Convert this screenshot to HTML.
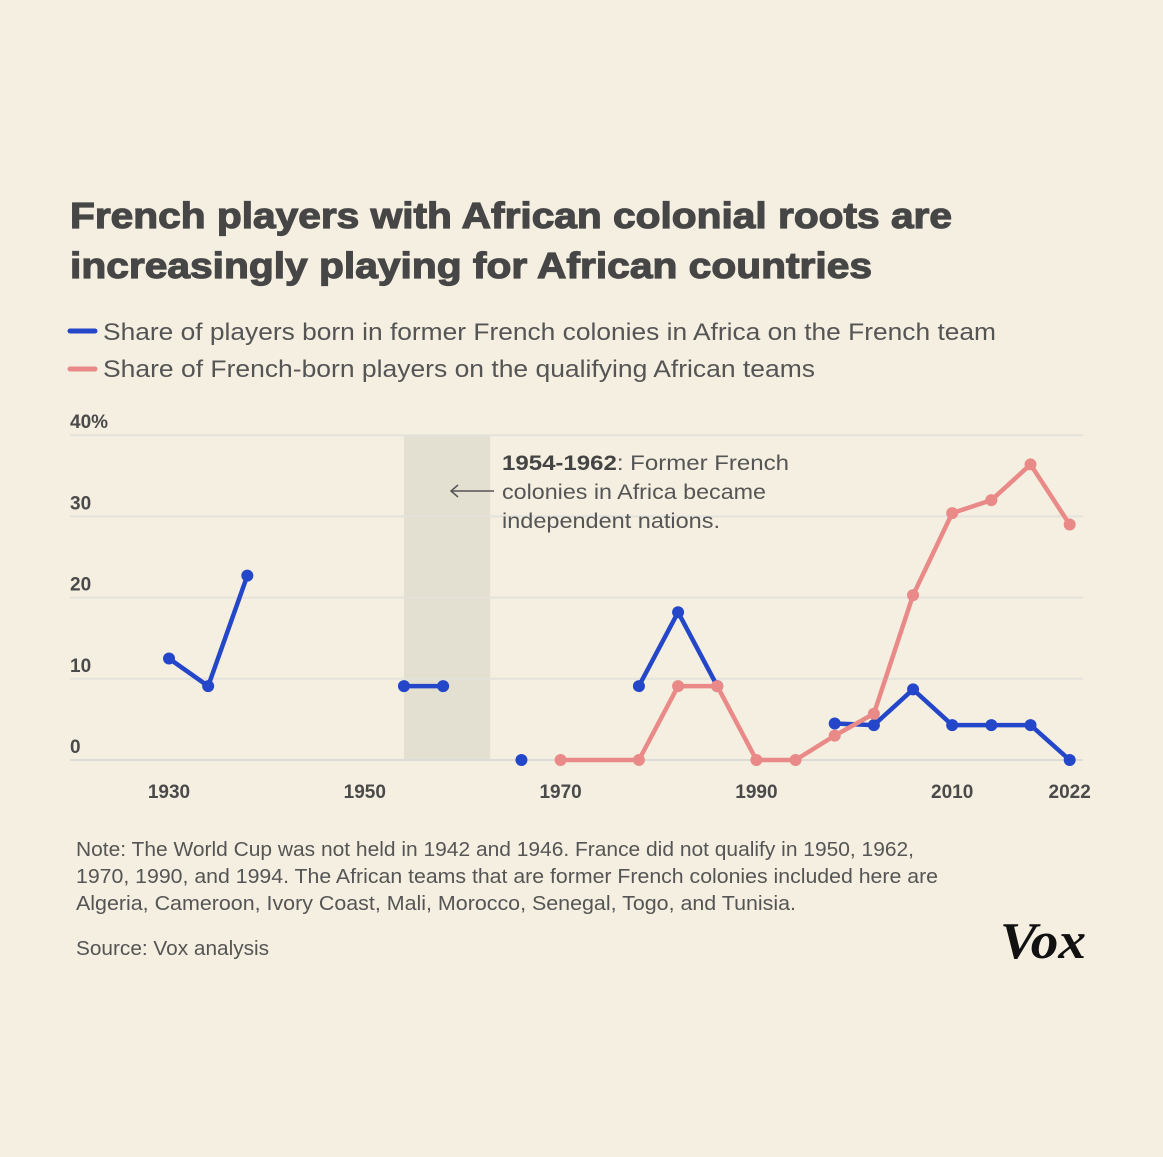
<!DOCTYPE html>
<html><head><meta charset="utf-8"><style>
html,body{margin:0;padding:0;background:#f4efe0;}
svg{display:block;font-family:"Liberation Sans",sans-serif;}
</style></head><body>
<svg id="chart" width="1163" height="1157" viewBox="0 0 1163 1157" xmlns="http://www.w3.org/2000/svg">
<rect width="1163" height="1157" fill="#f4efe0"/>
<g fill="#464646" font-weight="bold" font-size="36" stroke="#464646" stroke-width="1.2">
<text x="70" y="228" textLength="882" lengthAdjust="spacingAndGlyphs">French players with African colonial roots are</text>
<text x="70" y="278" textLength="802" lengthAdjust="spacingAndGlyphs">increasingly playing for African countries</text>
</g>
<g font-size="24" fill="#555">
<line x1="70" y1="331" x2="95" y2="331" stroke="#2447c9" stroke-width="5" stroke-linecap="round"/>
<text x="103" y="340" textLength="893" lengthAdjust="spacingAndGlyphs">Share of players born in former French colonies in Africa on the French team</text>
<line x1="70" y1="369" x2="95" y2="369" stroke="#ea8a88" stroke-width="5" stroke-linecap="round"/>
<text x="103" y="377" textLength="712" lengthAdjust="spacingAndGlyphs">Share of French-born players on the qualifying African teams</text>
</g>
<g id="plot"></g>
<g font-size="20" fill="#555">
<text x="76" y="856" textLength="838" lengthAdjust="spacingAndGlyphs">Note: The World Cup was not held in 1942 and 1946. France did not qualify in 1950, 1962,</text>
<text x="76" y="883" textLength="862" lengthAdjust="spacingAndGlyphs">1970, 1990, and 1994. The African teams that are former French colonies included here are</text>
<text x="76" y="910" textLength="720" lengthAdjust="spacingAndGlyphs">Algeria, Cameroon, Ivory Coast, Mali, Morocco, Senegal, Togo, and Tunisia.</text>
</g>
<text x="76" y="955" font-size="20" fill="#555" textLength="193" lengthAdjust="spacingAndGlyphs">Source: Vox analysis</text>
<text x="1000" y="958" font-family="'Liberation Serif',serif" font-weight="bold" font-style="italic" font-size="52" fill="#111" textLength="86" lengthAdjust="spacingAndGlyphs">Vox</text>
</svg>
<script>
const years = [1930,1934,1938,1942,1946,1950,1954,1958,1962,1966,1970,1974,1978,1982,1986,1990,1994,1998,2002,2006,2010,2014,2018,2022];
const blueValues = [12.5,9.1,22.7,null,null,null,9.1,9.1,null,0,null,null,9.1,18.2,9.1,null,null,4.5,4.3,8.7,4.3,4.3,4.3,0];
const pinkValues = [null,null,null,null,null,null,null,null,null,null,0,0,0,9.1,9.1,0,0,3,5.7,20.3,30.4,32,36.4,29];
const yTicks = [0,10,20,30,40];
const yTickLabels = ["0","10","20","30","40%"];
const xTicks = [1930,1950,1970,1990,2010,2022];
const band = [1954,1962.8];

const NS="http://www.w3.org/2000/svg";
const plot=document.getElementById('plot');
const xs=y=>169+(y-1930)*9.79;
const ys=v=>760-v*8.12;
function el(t,a,p){const e=document.createElementNS(NS,t);for(const k in a)e.setAttribute(k,a[k]);(p||plot).appendChild(e);return e;}

const bandEl=el('rect',{x:xs(band[0]),y:ys(40),width:xs(band[1])-xs(band[0]),height:ys(0)-ys(40),fill:'#e3dfd1'});



yTicks.forEach((t,i)=>{
  const g=el('line',{x1:70,x2:1083,y1:ys(t),y2:ys(t),stroke:t===0?'#dcdcd6':'#e4e2dc','stroke-width':2});
  
  
  const l=el('text',{x:70,y:ys(t)-7,'font-size':19,'font-weight':'bold',fill:'#4a4a4a'});
  l.textContent=yTickLabels[i];
  
  
});
xTicks.forEach(t=>{
  const l=el('text',{x:xs(t),y:798,'font-size':19,'font-weight':'bold',fill:'#4a4a4a','text-anchor':'middle'});
  l.textContent=t;
  
  
});

const ann=el('g',{'font-size':21,fill:'#555'});


const t1=el('text',{x:502,y:470,textLength:287,lengthAdjust:'spacingAndGlyphs'},ann);
t1.innerHTML='<tspan font-weight="bold" fill="#444">1954-1962</tspan>: Former French';
el('text',{x:502,y:499,textLength:264,lengthAdjust:'spacingAndGlyphs'},ann).textContent='colonies in Africa became';
el('text',{x:502,y:528,textLength:218,lengthAdjust:'spacingAndGlyphs'},ann).textContent='independent nations.';
el('line',{x1:494,x2:451,y1:491,y2:491,stroke:'#555','stroke-width':1.5},ann);
el('polyline',{points:'458,485 451,491 458,497',fill:'none',stroke:'#555','stroke-width':1.5},ann);

function series(vals,color,name){
  const g=el('g',{});
  
  
  let seg=[];
  const segs=[];
  vals.forEach((v,i)=>{
    if(v===null){ if(seg.length)segs.push(seg); seg=[]; }
    else seg.push([xs(years[i]),ys(v)]);
  });
  if(seg.length)segs.push(seg);
  segs.forEach(s=>{
    if(s.length>1){
      const p=el('polyline',{points:s.map(q=>q.join(',')).join(' '),fill:'none',stroke:color,'stroke-width':4.5,'stroke-linejoin':'round'},g);
      
      
    }
  });
  vals.forEach((v,i)=>{
    if(v===null)return;
    if(name==='pink-series'&&(years[i]===1974))return;
    const c=el('circle',{cx:xs(years[i]),cy:ys(v),r:6,fill:color},g);
    
    
  });
}
series(blueValues,'#2447c9','blue-series');
series(pinkValues,'#ea8a88','pink-series');
</script>
</body></html>
